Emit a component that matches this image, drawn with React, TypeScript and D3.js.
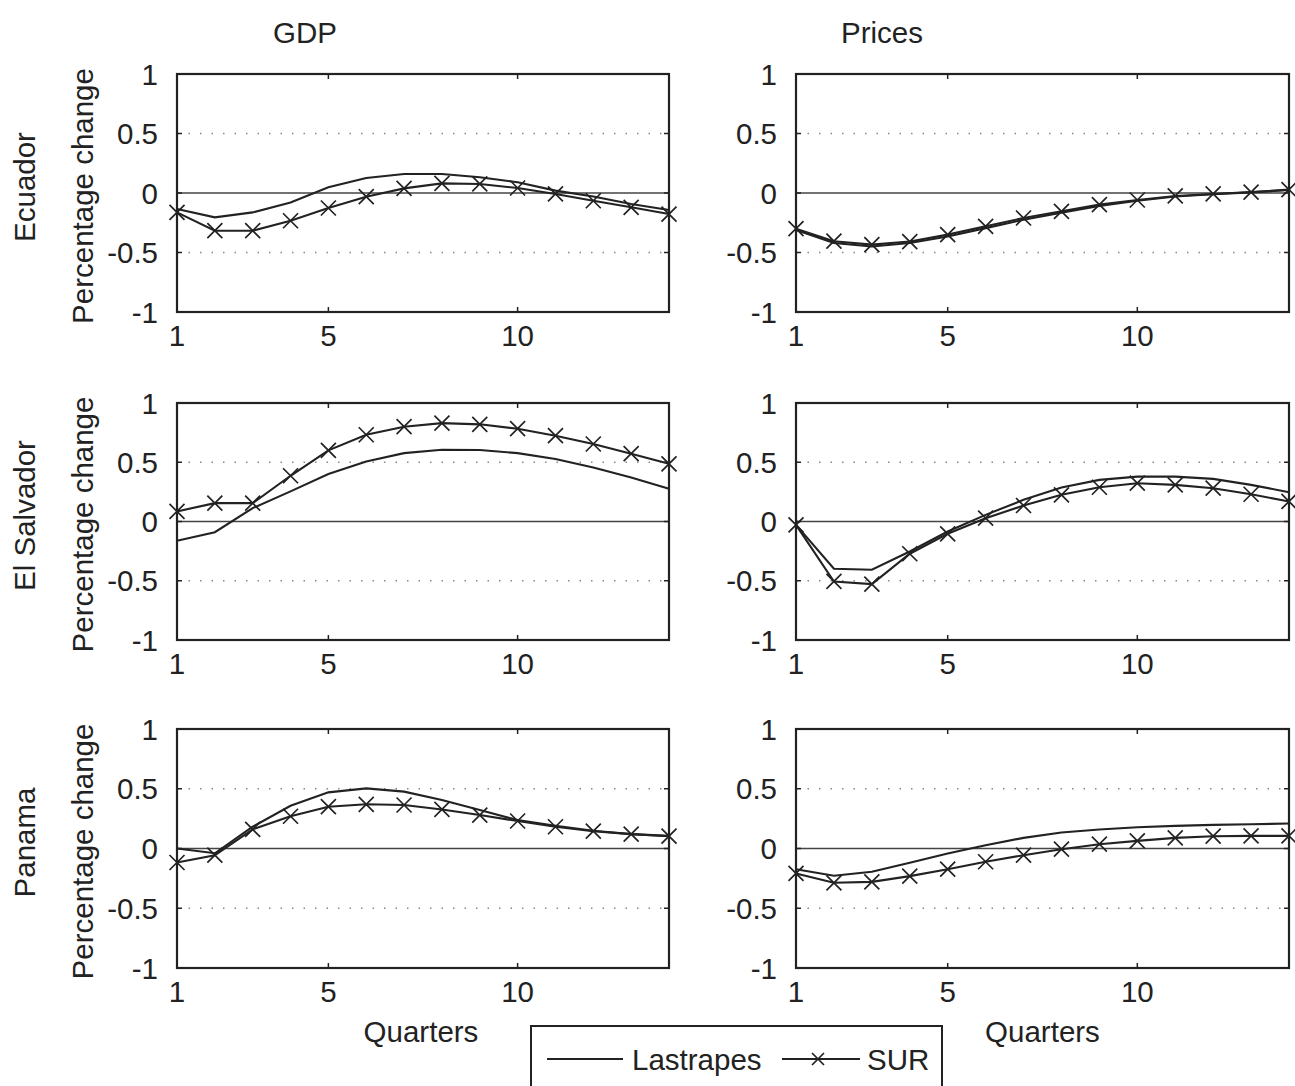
import React from 'react'
import * as d3 from 'd3'

// impulse responses, quarters 1..14
const quarters = [1, 2, 3, 4, 5, 6, 7, 8, 9, 10, 11, 12, 13, 14]
const xTicks = [1, 5, 10]
const yTicks = [-1, -0.5, 0, 0.5, 1]
const columnTitles = ['GDP', 'Prices']
const countries = ['Ecuador', 'El Salvador', 'Panama']
const seriesNames = ['Lastrapes', 'SUR']

const gdpEcuadorLastrapes = [-0.135, -0.205, -0.163, -0.08, 0.048, 0.126, 0.16, 0.16, 0.132, 0.09, 0.02, -0.03, -0.093, -0.143]
const gdpEcuadorSur = [-0.163, -0.317, -0.317, -0.233, -0.126, -0.031, 0.039, 0.081, 0.076, 0.042, -0.008, -0.065, -0.12, -0.177]
const pricesEcuadorLastrapes = [-0.31, -0.42, -0.45, -0.42, -0.365, -0.295, -0.225, -0.165, -0.108, -0.065, -0.03, -0.01, 0.005, 0.025]
const pricesEcuadorSur = [-0.3, -0.405, -0.434, -0.408, -0.35, -0.28, -0.21, -0.154, -0.098, -0.059, -0.025, -0.008, 0.008, 0.028]

const gdpSalvadorLastrapes = [-0.163, -0.09, 0.113, 0.254, 0.4, 0.507, 0.577, 0.606, 0.603, 0.577, 0.527, 0.456, 0.372, 0.276]
const gdpSalvadorSur = [0.085, 0.155, 0.155, 0.386, 0.6, 0.732, 0.8, 0.83, 0.82, 0.783, 0.724, 0.654, 0.572, 0.487]
const pricesSalvadorLastrapes = [-0.028, -0.399, -0.407, -0.253, -0.084, 0.056, 0.183, 0.287, 0.351, 0.379, 0.379, 0.36, 0.309, 0.247]
const pricesSalvadorSur = [-0.028, -0.506, -0.528, -0.272, -0.104, 0.028, 0.135, 0.225, 0.289, 0.323, 0.309, 0.281, 0.23, 0.169]

const gdpPanamaLastrapes = [0.0, -0.04, 0.182, 0.358, 0.47, 0.503, 0.476, 0.406, 0.322, 0.238, 0.19, 0.148, 0.12, 0.106]
const gdpPanamaSur = [-0.117, -0.056, 0.16, 0.27, 0.35, 0.37, 0.364, 0.327, 0.28, 0.23, 0.182, 0.145, 0.12, 0.103]
const pricesPanamaLastrapes = [-0.173, -0.228, -0.195, -0.12, -0.042, 0.028, 0.089, 0.134, 0.159, 0.178, 0.189, 0.198, 0.203, 0.209]
const pricesPanamaSur = [-0.209, -0.287, -0.279, -0.231, -0.173, -0.111, -0.056, -0.006, 0.036, 0.064, 0.089, 0.103, 0.106, 0.106]

const panels = [
  [[gdpEcuadorLastrapes, gdpEcuadorSur], [pricesEcuadorLastrapes, pricesEcuadorSur]],
  [[gdpSalvadorLastrapes, gdpSalvadorSur], [pricesSalvadorLastrapes, pricesSalvadorSur]],
  [[gdpPanamaLastrapes, gdpPanamaSur], [pricesPanamaLastrapes, pricesPanamaSur]],
]

const W = 1295
const H = 1086
const FONT = '"Liberation Sans", Arial, Helvetica, sans-serif'
const INK = '#222'
const FS = 29.5

const cols = [{ x0: 177, x1: 669, title: 305 }, { x0: 796, x1: 1289, title: 882 }]
const rows = [{ y0: 74, y1: 312 }, { y0: 403, y1: 640 }, { y0: 729, y1: 968 }]

function Cross({ x, y, s = 7.5 }: { x: number; y: number; s?: number }) {
  return (
    <path d={`M${x - s},${y - s}L${x + s},${y + s}M${x - s},${y + s}L${x + s},${y - s}`}
      stroke={INK} strokeWidth={1.7} fill="none" />
  )
}

function Panel({ col, row, series, ci }: any) {
  const x = d3.scaleLinear().domain([1, 14]).range([col.x0, col.x1])
  const y = d3.scaleLinear().domain([-1, 1]).range([row.y1, row.y0])
  const line = d3.line<number>().x((d, i) => x(quarters[i])).y(d => y(d))
  const labelRight = col.x0 - 19
  return (
    <g>
      {[-0.5, 0.5].map(v => (
        <line key={v} x1={col.x0} x2={col.x1} y1={y(v)} y2={y(v)}
          stroke="#888" strokeWidth={1.6} strokeDasharray="1.5 10" />
      ))}
      <line x1={col.x0} x2={col.x1} y1={y(0)} y2={y(0)} stroke="#444" strokeWidth={1.6} />
      {series.map((s: number[], k: number) => (
        <path key={k} d={line(s) || ''} fill="none" stroke={INK} strokeWidth={2.1} />
      ))}
      {series[1].map((v: number, i: number) => (
        <Cross key={i} x={x(quarters[i])} y={y(v)} />
      ))}
      <rect x={col.x0} y={row.y0} width={col.x1 - col.x0} height={row.y1 - row.y0}
        fill="none" stroke={INK} strokeWidth={2.2} />
      {xTicks.map(t => (
        <g key={t}>
          <line x1={x(t)} x2={x(t)} y1={row.y1} y2={row.y1 - 5} stroke={INK} strokeWidth={1.5} />
          <line x1={x(t)} x2={x(t)} y1={row.y0} y2={row.y0 + 5} stroke={INK} strokeWidth={1.5} />
          <text x={x(t)} y={row.y1 + 34} textAnchor="middle" fontSize={FS} fontFamily={FONT} fill={INK}>{t}</text>
        </g>
      ))}
      {yTicks.map(t => (
        <g key={t}>
          <line x1={col.x0} x2={col.x0 + 5} y1={y(t)} y2={y(t)} stroke={INK} strokeWidth={1.5} />
          <line x1={col.x1} x2={col.x1 - 5} y1={y(t)} y2={y(t)} stroke={INK} strokeWidth={1.5} />
          <text x={labelRight} y={y(t)} dy="0.36em" textAnchor="end" fontSize={FS} fontFamily={FONT} fill={INK}>{t}</text>
        </g>
      ))}
      {ci === 0 && (
        <text transform={`translate(82,${(row.y0 + row.y1) / 2 + 3}) rotate(-90)`} textAnchor="middle"
          dy="0.36em" fontSize={FS} fontFamily={FONT} fill={INK}>Percentage change</text>
      )}
    </g>
  )
}

export default function App() {
  return (
    <svg width={W} height={H} style={{ position: 'absolute', left: 0, top: 0, background: '#fff' }}>
      {columnTitles.map((t, i) => (
        <text key={t} x={cols[i].title} y={43} textAnchor="middle" fontSize={FS} fontFamily={FONT} fill={INK}>{t}</text>
      ))}
      {countries.map((c, r) => (
        <text key={c} transform={`translate(24,${(rows[r].y0 + rows[r].y1) / 2 - 6}) rotate(-90)`}
          textAnchor="middle" dy="0.36em" fontSize={FS} fontFamily={FONT} fill={INK}>{c}</text>
      ))}
      {rows.map((row, r) => cols.map((col, c) => (
        <Panel key={`${r}-${c}`} row={row} col={col} ci={c} series={panels[r][c]} />
      )))}
      {cols.map((col, i) => (
        <text key={i} x={(col.x0 + col.x1) / 2 - (i === 0 ? 2 : -0)} y={1042} textAnchor="middle"
          fontSize={FS} fontFamily={FONT} fill={INK}>Quarters</text>
      ))}
      <g>
        <rect x={531} y={1026} width={411} height={90} fill="#fff" stroke={INK} strokeWidth={2} />
        <line x1={547} x2={623} y1={1059} y2={1059} stroke={INK} strokeWidth={2} />
        <text x={632} y={1059} dy="0.36em" fontSize={FS} fontFamily={FONT} fill={INK}>{seriesNames[0]}</text>
        <line x1={782} x2={860} y1={1059} y2={1059} stroke={INK} strokeWidth={2} />
        <Cross x={818} y={1059} s={6} />
        <text x={867} y={1059} dy="0.36em" fontSize={FS} fontFamily={FONT} fill={INK}>{seriesNames[1]}</text>
      </g>
    </svg>
  )
}
